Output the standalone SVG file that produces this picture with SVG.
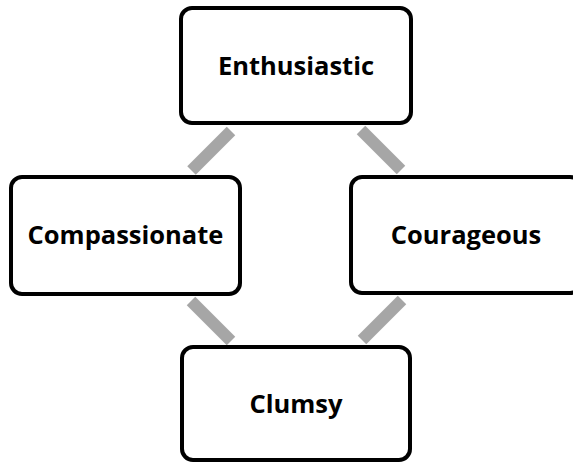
<svg xmlns="http://www.w3.org/2000/svg" width="573" height="463" viewBox="0 0 573 463">
<style>
.box{fill:#fff;stroke:#000;stroke-width:4}
.lbl{font-family:"Open Sans","Liberation Sans",Arial,sans-serif;font-weight:bold;font-size:25.5px;text-anchor:middle;fill:#000}
.conn{stroke:#a6a6a6;stroke-width:12;stroke-linecap:butt}
</style>
<rect width="573" height="463" fill="#fff"/>
<g id="connectors">
<line class="conn" x1="231" y1="131" x2="191.5" y2="170.5"/>
<line class="conn" x1="361" y1="130" x2="401" y2="170"/>
<line class="conn" x1="191" y1="301" x2="231" y2="341"/>
<line class="conn" x1="402" y1="300" x2="362" y2="340"/>
</g>
<g id="enthusiastic">
<rect class="box" x="181" y="8" width="230" height="115" rx="11"/>
<text class="lbl" x="296" y="75">Enthusiastic</text>
</g>
<g id="compassionate">
<rect class="box" x="11" y="177" width="229" height="117" rx="11"/>
<text class="lbl" x="125.5" y="244">Compassionate</text>
</g>
<g id="courageous">
<rect class="box" x="351" y="177" width="230" height="116" rx="11"/>
<text class="lbl" x="466" y="244">Courageous</text>
</g>
<g id="clumsy">
<rect class="box" x="182" y="347" width="228" height="113" rx="11"/>
<text class="lbl" x="296" y="413">Clumsy</text>
</g>
</svg>
